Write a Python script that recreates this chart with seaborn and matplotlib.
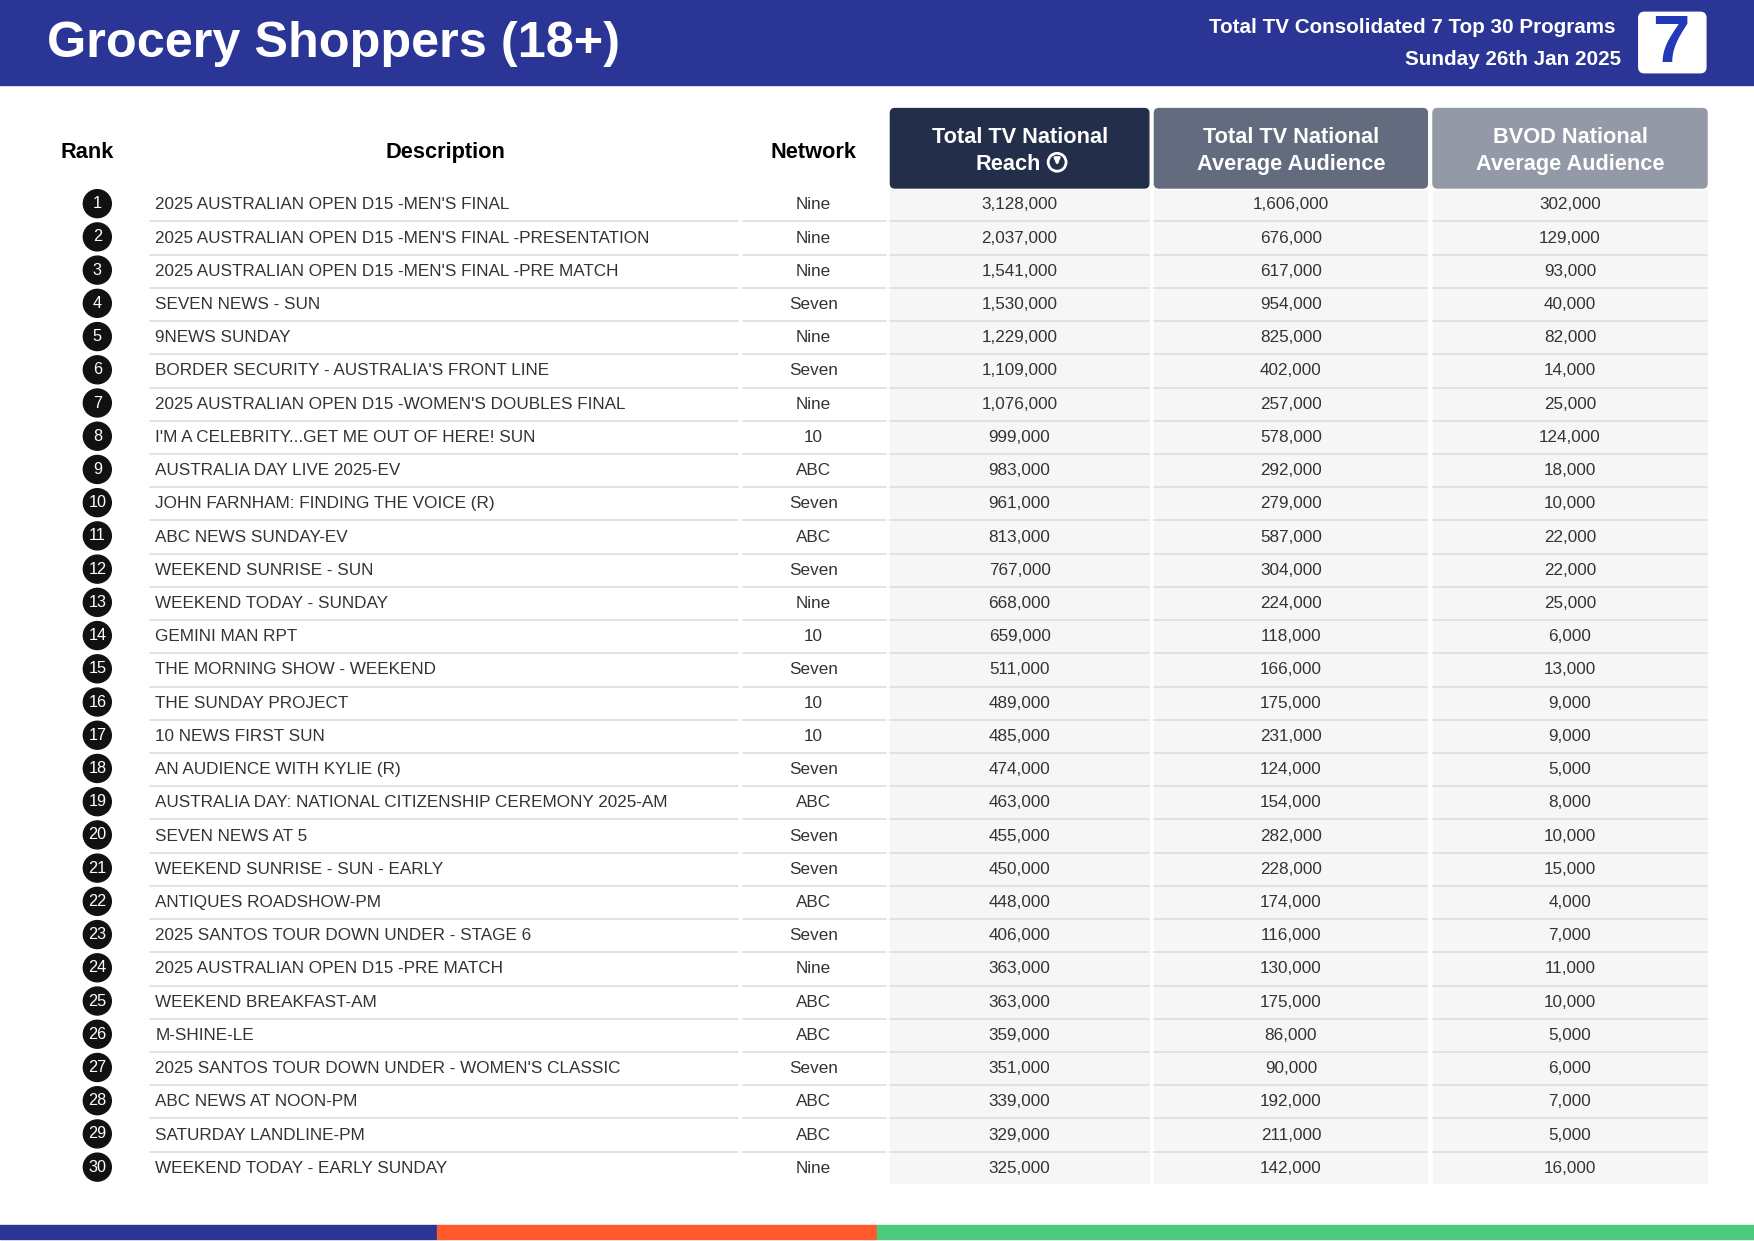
import matplotlib
matplotlib.use("Agg")
import matplotlib.pyplot as plt
import seaborn as sns
from matplotlib.patches import Rectangle, FancyBboxPatch, Circle

sns.set_theme(style="white", font="Liberation Sans")

descriptions = ["2025 AUSTRALIAN OPEN D15 -MEN'S FINAL","2025 AUSTRALIAN OPEN D15 -MEN'S FINAL -PRESENTATION",
"2025 AUSTRALIAN OPEN D15 -MEN'S FINAL -PRE MATCH","SEVEN NEWS - SUN","9NEWS SUNDAY",
"BORDER SECURITY - AUSTRALIA'S FRONT LINE","2025 AUSTRALIAN OPEN D15 -WOMEN'S DOUBLES FINAL",
"I'M A CELEBRITY...GET ME OUT OF HERE! SUN","AUSTRALIA DAY LIVE 2025-EV","JOHN FARNHAM: FINDING THE VOICE (R)",
"ABC NEWS SUNDAY-EV","WEEKEND SUNRISE - SUN","WEEKEND TODAY - SUNDAY","GEMINI MAN RPT","THE MORNING SHOW - WEEKEND",
"THE SUNDAY PROJECT","10 NEWS FIRST SUN","AN AUDIENCE WITH KYLIE (R)","AUSTRALIA DAY: NATIONAL CITIZENSHIP CEREMONY 2025-AM",
"SEVEN NEWS AT 5","WEEKEND SUNRISE - SUN - EARLY","ANTIQUES ROADSHOW-PM","2025 SANTOS TOUR DOWN UNDER - STAGE 6",
"2025 AUSTRALIAN OPEN D15 -PRE MATCH","WEEKEND BREAKFAST-AM","M-SHINE-LE","2025 SANTOS TOUR DOWN UNDER - WOMEN'S CLASSIC",
"ABC NEWS AT NOON-PM","SATURDAY LANDLINE-PM","WEEKEND TODAY - EARLY SUNDAY"]
networks = ["Nine","Nine","Nine","Seven","Nine","Seven","Nine","10","ABC","Seven","ABC","Seven","Nine","10","Seven",
"10","10","Seven","ABC","Seven","Seven","ABC","Seven","Nine","ABC","ABC","Seven","ABC","ABC","Nine"]
reach = [3128000,2037000,1541000,1530000,1229000,1109000,1076000,999000,983000,961000,813000,767000,668000,659000,
511000,489000,485000,474000,463000,455000,450000,448000,406000,363000,363000,359000,351000,339000,329000,325000]
avg_tv = [1606000,676000,617000,954000,825000,402000,257000,578000,292000,279000,587000,304000,224000,118000,166000,
175000,231000,124000,154000,282000,228000,174000,116000,130000,175000,86000,90000,192000,211000,142000]
bvod = [302000,129000,93000,40000,82000,14000,25000,124000,18000,10000,22000,22000,25000,6000,13000,9000,9000,5000,
8000,10000,15000,4000,7000,11000,10000,5000,6000,7000,5000,16000]
col_titles = [("Total TV National", "Reach"), ("Total TV National", "Average Audience"), ("BVOD National", "Average Audience")]

W, H = 1568, 1109
fig = plt.figure(figsize=(17.54, 12.41), dpi=100)
ax = fig.add_axes([0, 0, 1, 1])
ax.set_xlim(0, W); ax.set_ylim(H, 0); ax.axis("off")
s = 1754/1568*0.72
def fs(px): return px*s

ax.add_patch(Rectangle((0, 0), W, 76, color="#2B3595"))
ax.text(42, 39, "Grocery Shoppers (18+)", color="white", fontsize=fs(45), fontweight="bold", va="center")
ax.text(1444, 25, "Total TV Consolidated 7 Top 30 Programs", color="white", fontsize=fs(18.5), fontweight="bold", va="center", ha="right")
ax.text(1449, 53, "Sunday 26th Jan 2025", color="white", fontsize=fs(18.5), fontweight="bold", va="center", ha="right")
ax.add_patch(FancyBboxPatch((1465, 11), 60, 54, boxstyle="round,pad=0,rounding_size=5", color="white"))
ax.text(1494, 40, "7", color="#2339B8", fontsize=fs(60), fontweight="bold", va="center", ha="center")

for x, t in [(78, "Rank"), (398, "Description"), (727, "Network")]:
    ax.text(x, 136, t, fontsize=fs(19.5), fontweight="bold", ha="center", va="center", color="black")
cols = [(796, 1027, "#222E4A"), (1032, 1276, "#636B7E"), (1281, 1526, "#9399A6")]
for i, ((x0, x1, c), (t1, t2)) in enumerate(zip(cols, col_titles)):
    ax.add_patch(FancyBboxPatch((x0, 97), x1-x0, 71, boxstyle="round,pad=0,rounding_size=4", color=c))
    ax.add_patch(Rectangle((x0, 170), x1-x0, 887, color="#F6F6F6"))
    cx = (x0+x1)/2
    ax.text(cx, 123, t1, color="white", fontsize=fs(19.5), fontweight="bold", ha="center", va="center")
    if i == 0:
        ax.text(cx - 10, 147, t2, color="white", fontsize=fs(19.5), fontweight="bold", ha="center", va="center")
        ax.add_patch(Circle((945, 145), 8, facecolor="none", edgecolor="white", lw=2))
        ax.annotate("", xy=(945, 150), xytext=(945, 140), arrowprops=dict(arrowstyle="-|>", color="white", lw=2, mutation_scale=8))
    else:
        ax.text(cx, 147, t2, color="white", fontsize=fs(19.5), fontweight="bold", ha="center", va="center")

y0, dy = 183, (1044-183)/29
for i in range(30):
    y = y0 + i*dy
    ax.add_patch(Circle((87, y-1), 12.5, color="#111111"))
    ax.text(87, y-1, str(i+1), color="white", fontsize=fs(14.5), ha="center", va="center")
    ax.text(139, y, descriptions[i], fontsize=fs(15.3), ha="left", va="center", color="#333333")
    ax.text(727, y, networks[i], fontsize=fs(15.3), ha="center", va="center", color="#333333")
    for (x0, x1, _), v in zip(cols, [reach[i], avg_tv[i], bvod[i]]):
        ax.text((x0+x1)/2, y, f"{v:,}", fontsize=fs(15.3), ha="center", va="center", color="#333333")
    if i < 29:
        yl = y + dy/2
        for a, b in [(134, 660), (664, 792), (796, 1027), (1032, 1276), (1281, 1526)]:
            ax.plot([a, b], [yl, yl], color="#DDDDDD", lw=1.2)

ax.add_patch(Rectangle((0, 1095), 391, 12, color="#2B3595"))
ax.add_patch(Rectangle((391, 1095), 393, 12, color="#FF5A2C"))
ax.add_patch(Rectangle((784, 1095), 784, 12, color="#4CCB7F"))
fig.savefig("out.png", dpi=100, facecolor="white")
